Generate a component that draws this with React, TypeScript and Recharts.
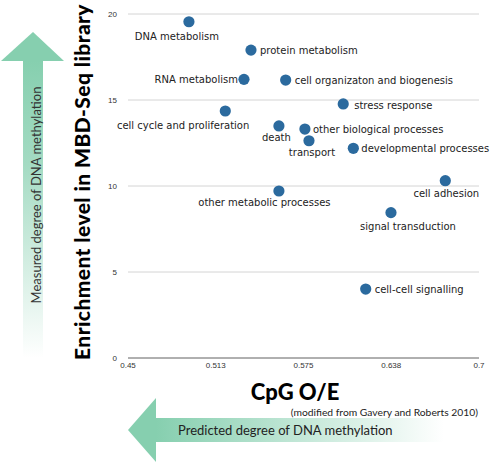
import React from "react";
import { ScatterChart, Scatter, XAxis, YAxis, CartesianGrid } from "recharts";

const categories = [
  "DNA metabolism",
  "protein metabolism",
  "RNA metabolism",
  "cell organizaton and biogenesis",
  "stress response",
  "cell cycle and proliferation",
  "death",
  "other biological processes",
  "transport",
  "developmental processes",
  "cell adhesion",
  "other metabolic processes",
  "signal transduction",
  "cell-cell signalling",
];
const cpgValues = [0.4934, 0.5376, 0.5326, 0.5623, 0.6033, 0.5193, 0.5575, 0.576, 0.5789, 0.6105, 0.676, 0.5575, 0.6373, 0.6193];
const enrichmentValues = [19.55, 17.9, 16.2, 16.16, 14.77, 14.36, 13.49, 13.31, 12.63, 12.19, 10.31, 9.71, 8.45, 4.01];
const xTicks = [0.45, 0.5125, 0.575, 0.6375, 0.7];
const xTickLabels = ["0.45", "0.513", "0.575", "0.638", "0.7"];
const yTicks = [0, 5, 10, 15, 20];

// label placement style (offsets relative to dot)
const labelStyle: Record<string, { anchor: string; dx: number; dy: number }> = {
  "DNA metabolism": { anchor: "middle", dx: -12, dy: 15 },
  "protein metabolism": { anchor: "start", dx: 9, dy: 0 },
  "RNA metabolism": { anchor: "end", dx: -6, dy: 0 },
  "cell organizaton and biogenesis": { anchor: "start", dx: 9, dy: 0 },
  "stress response": { anchor: "start", dx: 11, dy: 2 },
  "cell cycle and proliferation": { anchor: "end", dx: 24, dy: 14 },
  death: { anchor: "middle", dx: -2.5, dy: 12 },
  "other biological processes": { anchor: "start", dx: 8, dy: 0 },
  transport: { anchor: "middle", dx: 3, dy: 11.5 },
  "developmental processes": { anchor: "start", dx: 8, dy: 0 },
  "cell adhesion": { anchor: "middle", dx: 1, dy: 12.5 },
  "other metabolic processes": { anchor: "middle", dx: -14.5, dy: 12 },
  "signal transduction": { anchor: "middle", dx: 17, dy: 14 },
  "cell-cell signalling": { anchor: "start", dx: 9, dy: 0 },
};

const data = categories.map((name, i) => ({ name, x: cpgValues[i], y: enrichmentValues[i] }));

const LABEL_FONT = "'DejaVu Sans', sans-serif";
const TITLE_FONT = "Lato, 'Open Sans', sans-serif";

const DotShape = (props: any) => {
  const { cx, cy, payload } = props;
  if (cx == null || cy == null) return null;
  const s = labelStyle[payload.name] || { anchor: "start", dx: 9, dy: 0 };
  return (
    <g>
      <circle cx={cx} cy={cy} r={5.6} fill="#2B6A9E" />
      <text
        x={cx + s.dx}
        y={cy + s.dy}
        textAnchor={s.anchor as any}
        dominantBaseline="central"
        fontFamily={LABEL_FONT}
        fontSize={10}
        fill="#222"
      >
        {payload.name}
      </text>
    </g>
  );
};

const Background = () => (
  <svg width={490} height={462} style={{ position: "absolute", left: 0, top: 0 }}>
    <defs>
      <linearGradient id="upGrad" x1="0" y1="0" x2="0" y2="1">
        <stop offset="0" stopColor="#86CFAF" stopOpacity={1} />
        <stop offset="0.35" stopColor="#86CFAF" stopOpacity={0.75} />
        <stop offset="1" stopColor="#86CFAF" stopOpacity={0} />
      </linearGradient>
      <linearGradient id="leftGrad" x1="0" y1="0" x2="1" y2="0">
        <stop offset="0" stopColor="#86CFAF" stopOpacity={1} />
        <stop offset="0.3" stopColor="#86CFAF" stopOpacity={0.7} />
        <stop offset="1" stopColor="#86CFAF" stopOpacity={0} />
      </linearGradient>
    </defs>
    {/* upward arrow */}
    <polygon points="33,32 64,61 1,61" fill="#86CFAF" />
    <rect x={23} y={61} width={20} height={297} fill="url(#upGrad)" />
    <text
      transform="translate(36,195) rotate(-90)"
      textAnchor="middle"
      dominantBaseline="central"
      fontFamily={TITLE_FONT}
      fontSize={13}
      fill="#333"
    >
      Measured degree of DNA methylation
    </text>
    {/* left arrow */}
    <polygon points="128,430 156,398 156,462" fill="#86CFAF" />
    <rect x={156} y={418} width={288} height={24} fill="url(#leftGrad)" />
    <text x={178} y={430} dominantBaseline="central" fontFamily={TITLE_FONT} fontSize={13} fill="#222">
      Predicted degree of DNA methylation
    </text>
    {/* axis titles */}
    <text
      transform="translate(81,182) rotate(-90)"
      textAnchor="middle"
      dominantBaseline="central"
      fontFamily={TITLE_FONT}
      fontWeight={900}
      fontSize={21}
      letterSpacing={0.4}
      fill="#000"
    >
      Enrichment level in MBD-Seq library
    </text>
    <text x={295} y={391} textAnchor="middle" dominantBaseline="central" fontFamily={TITLE_FONT} fontWeight={900} fontSize={22} fill="#000">
      CpG O/E
    </text>
    <text x={478} y={412} textAnchor="end" dominantBaseline="central" fontFamily={TITLE_FONT} fontSize={10.3} fill="#222">
      (modified from Gavery and Roberts 2010)
    </text>
  </svg>
);

export default function App() {
  return (
    <div style={{ position: "absolute", left: 0, top: 0, width: 490, height: 462, background: "#fff" }}>
      <Background />
      <div style={{ position: "absolute", left: 0, top: 0 }}>
        <ScatterChart width={490} height={462} margin={{ top: 14, right: 11, bottom: 0, left: 0 }}>
          <CartesianGrid horizontal={true} vertical={false} stroke="#d4d4d4" strokeWidth={1} />
          <XAxis
            type="number"
            dataKey="x"
            domain={[0.45, 0.7]}
            ticks={xTicks}
            tickFormatter={(v: number) => xTickLabels[xTicks.indexOf(v)] ?? String(v)}
            height={104}
            axisLine={{ stroke: "#777", strokeWidth: 1.2 }}
            tickLine={false}
            tickSize={0}
            tickMargin={4}
            tick={{ fontSize: 8, fill: "#333", fontFamily: "'Liberation Sans', Arial, sans-serif" }}
            interval={0}
          />
          <YAxis
            type="number"
            dataKey="y"
            domain={[0, 20]}
            ticks={yTicks}
            width={128}
            axisLine={false}
            tickLine={false}
            tickSize={6}
            tickMargin={5}
            tick={{ fontSize: 8, fill: "#333", fontFamily: "'Liberation Sans', Arial, sans-serif" }}
            interval={0}
          />
          <Scatter data={data} shape={DotShape} isAnimationActive={false} />
        </ScatterChart>
      </div>
    </div>
  );
}
